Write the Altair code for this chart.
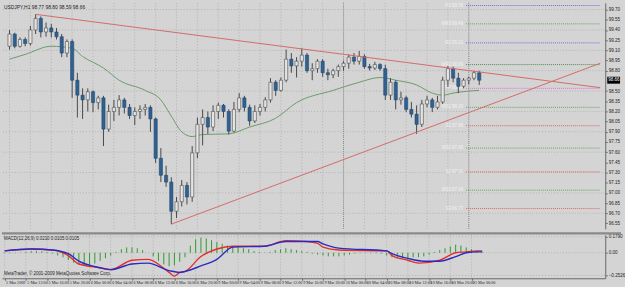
import json
import altair as alt
import pandas as pd

# ---------------- data ----------------
symbol = "USDJPY,H1"

opens = [99.16, 99.34, 99.16, 99.26, 99.20, 99.40, 99.57, 99.37, 99.43, 99.37,
         99.30, 99.06, 99.23, 98.66, 98.44, 98.37, 98.49, 98.33, 98.40, 97.94,
         98.20, 98.26, 98.37, 98.26, 98.14, 98.20, 98.23, 98.26, 98.09, 97.51,
         97.26, 97.16, 96.73, 96.87, 97.11, 96.94, 97.59, 98.01, 98.11, 97.97,
         98.20, 98.29, 98.20, 97.91, 98.23, 98.40, 98.26, 98.06, 98.20, 98.26,
         98.37, 98.63, 98.51, 98.66, 98.97, 98.87, 98.94, 99.03, 98.80, 98.83,
         98.94, 98.77, 98.74, 98.80, 98.86, 98.91, 99.00, 98.94, 99.01, 98.86,
         98.84, 98.89, 98.83, 98.44, 98.63, 98.37, 98.40, 98.23, 98.16, 98.01,
         98.31, 98.37, 98.26, 98.34, 98.66, 98.83, 98.69, 98.57, 98.66, 98.69,
         98.77]
highs = [99.40, 99.36, 99.29, 99.29, 99.46, 99.63, 99.60, 99.51, 99.49, 99.43,
         99.34, 99.26, 99.26, 98.77, 98.54, 98.54, 98.51, 98.43, 98.43, 98.30,
         98.37, 98.44, 98.40, 98.31, 98.26, 98.29, 98.31, 98.29, 98.11, 97.66,
         97.40, 97.23, 96.94, 97.19, 97.16, 97.69, 98.11, 98.23, 98.20, 98.29,
         98.33, 98.31, 98.23, 98.34, 98.47, 98.43, 98.30, 98.29, 98.31, 98.41,
         98.69, 98.66, 98.70, 99.11, 99.06, 99.00, 99.13, 99.06, 98.91, 98.97,
         98.97, 98.83, 98.83, 98.89, 98.94, 99.04, 99.06, 99.09, 99.04, 98.90,
         98.93, 98.91, 98.89, 98.69, 98.66, 98.49, 98.43, 98.34, 98.29, 98.37,
         98.43, 98.40, 98.43, 98.71, 98.87, 98.86, 98.77, 98.69, 98.71, 98.80,
         98.80]
lows = [99.11, 99.13, 99.14, 99.16, 99.17, 99.34, 99.29, 99.30, 99.29, 99.26,
        99.00, 99.00, 98.40, 98.11, 98.09, 98.20, 98.19, 98.23, 97.69, 97.90,
        98.06, 98.14, 98.17, 98.09, 98.00, 98.09, 98.14, 97.90, 97.44, 97.16,
        97.09, 96.54, 96.63, 96.80, 96.83, 96.87, 97.51, 97.70, 97.87, 97.91,
        98.09, 98.11, 97.86, 97.89, 98.19, 98.20, 97.99, 98.03, 98.14, 98.20,
        98.33, 98.43, 98.49, 98.63, 98.77, 98.70, 98.86, 98.77, 98.66, 98.77,
        98.71, 98.66, 98.69, 98.71, 98.80, 98.83, 98.89, 98.89, 98.83, 98.80,
        98.81, 98.80, 98.37, 98.37, 98.23, 98.30, 98.19, 98.11, 97.87, 97.97,
        98.26, 98.19, 98.23, 98.31, 98.56, 98.63, 98.47, 98.54, 98.60, 98.66,
        98.59]
closes = [99.34, 99.16, 99.26, 99.20, 99.40, 99.57, 99.37, 99.43, 99.37, 99.30,
          99.06, 99.23, 98.66, 98.44, 98.37, 98.49, 98.33, 98.40, 97.94, 98.20,
          98.26, 98.37, 98.26, 98.14, 98.20, 98.23, 98.26, 98.09, 97.51, 97.26,
          97.16, 96.73, 96.87, 97.11, 96.94, 97.59, 98.01, 98.11, 97.97, 98.20,
          98.29, 98.20, 97.91, 98.23, 98.40, 98.26, 98.06, 98.20, 98.26, 98.37,
          98.63, 98.51, 98.66, 98.97, 98.87, 98.94, 99.03, 98.80, 98.83, 98.94,
          98.77, 98.74, 98.80, 98.86, 98.91, 99.00, 98.94, 99.01, 98.86, 98.84,
          98.89, 98.83, 98.44, 98.63, 98.37, 98.40, 98.23, 98.16, 98.01, 98.31,
          98.37, 98.26, 98.34, 98.66, 98.83, 98.69, 98.57, 98.66, 98.69, 98.77,
          98.66]

ma_idx = [0, 3, 8, 12, 14, 18, 21, 26, 29, 31, 33, 35, 37, 42, 46, 51, 55, 62,
          67, 71, 74, 78, 81, 83, 85, 88, 90]
ma_val = [98.97, 99.04, 99.16, 99.13, 99.01, 98.84, 98.66, 98.51, 98.37, 98.13,
          97.90, 97.83, 97.86, 97.87, 97.97, 98.10, 98.33, 98.51, 98.63, 98.70,
          98.66, 98.59, 98.47, 98.44, 98.47, 98.50, 98.51]

trend_names = ["resistance", "resistance", "support", "support"]
trend_idx = [5, 113.2, 31, 113.2]
trend_val = [99.63, 98.55, 96.54, 98.91]

level_names = ["R3", "MR3", "R2", "MR2", "PP", "MS1", "S1", "MS2", "S2", "MS3", "S3"]
level_vals = [99.76, 99.49, 99.21, 98.89, 98.54, 98.26, 97.99, 97.66, 97.31, 97.04, 96.77]
level_colors = ["#7468e8", "#62a862", "#7468e8", "#4c8a4c", "#e070e0", "#62a862",
                "#e06464", "#62a862", "#e06464", "#62a862", "#e06464"]
level_start = 87.5
level_end = 113.2

day_sep_idx = [64, 88]

hist = [-0.006, -0.006, -0.004, 0.004, 0.012, 0.020, 0.022, 0.018, 0.008, -0.010,
        -0.030, -0.050, -0.080, -0.110, -0.130, -0.140, -0.140, -0.120, -0.090, -0.060,
        -0.030, 0.010, 0.040, 0.060, 0.060, 0.050, 0.030, 0.000, -0.040, -0.090,
        -0.130, -0.150, -0.140, -0.100, -0.050, 0.080, 0.150, 0.170, 0.160, 0.140,
        0.120, 0.100, 0.080, 0.070, 0.060, 0.050, 0.040, 0.020, 0.010, 0.004,
        0.010, 0.030, 0.040, 0.050, 0.040, 0.030, 0.020, 0.010, -0.010, -0.020,
        -0.030, -0.040, -0.040, -0.040, -0.030, -0.020, -0.010, -0.006, -0.004, -0.006,
        -0.008, -0.010, -0.030, -0.050, -0.060, -0.060, -0.060, -0.050, -0.050, -0.040,
        -0.020, 0.010, 0.030, 0.050, 0.070, 0.090, 0.080, 0.060, 0.040, 0.020,
        0.010]

red_idx = [0, 5, 9, 12, 14, 18, 20, 24, 27, 31, 32, 33, 34, 37, 40, 43, 49, 53, 57,
           59, 60, 63, 72, 73, 76, 78, 82, 85, 87, 89, 90]
red_val = [0.021, 0.042, 0.031, -0.031, -0.125, -0.167, -0.1875, -0.083, -0.073,
           -0.219, -0.26, -0.219, -0.208, -0.042, 0.042, 0.073, 0.073, 0.135, 0.125,
           0.104, 0.0625, 0.031, 0.021, -0.031, -0.083, -0.115, -0.083, 0.0, 0.01,
           0.021, 0.021]
blue_idx = [0, 5, 9, 12, 14, 18, 20, 24, 27, 31, 33, 34, 37, 40, 43, 49, 53, 57, 59,
            60, 63, 72, 73, 76, 79, 82, 85, 87, 89, 90]
blue_val = [0.021, 0.042, 0.031, -0.01, -0.094, -0.167, -0.1875, -0.125, -0.115,
            -0.198, -0.219, -0.208, -0.146, -0.073, 0.063, 0.073, 0.125, 0.125, 0.125,
            0.1, 0.052, 0.021, -0.01, -0.0625, -0.094, -0.094, -0.042, 0.0, 0.01, 0.01]

x_label_idx = [0, 4, 8, 12, 16, 20, 24, 28, 32, 36, 40, 44, 48, 52, 56, 60, 64,
               68, 72, 76, 80, 84, 88]
x_labels = ["5 Mar 2009", "5 Mar 12:00", "5 Mar 16:00", "5 Mar 20:00",
            "6 Mar 00:00", "6 Mar 04:00", "6 Mar 08:00", "6 Mar 12:00",
            "6 Mar 16:00", "6 Mar 20:00", "9 Mar 00:00", "9 Mar 04:00",
            "9 Mar 08:00", "9 Mar 12:00", "9 Mar 16:00", "9 Mar 20:00",
            "10 Mar 00:00", "10 Mar 04:00", "10 Mar 08:00", "10 Mar 12:00",
            "10 Mar 16:00", "10 Mar 20:00", "11 Mar 00:00"]

price_ticks = [96.55, 96.70, 96.85, 97.00, 97.15, 97.30, 97.45, 97.60, 97.75, 97.90,
               98.05, 98.20, 98.35, 98.50, 98.80, 98.95, 99.10, 99.25, 99.40,
               99.55, 99.70]
price_grid = [96.70, 97.00, 97.30, 97.60, 97.90, 98.20, 98.50, 98.80, 99.10, 99.40, 99.70]
macd_ticks = [0.1790, 0.0, -0.2526]
macd_title = "MACD(12,26,9) 0.0210 0.0105 0.0105"
copyright_text = "MetaTrader, \u00a9 2001-2009 MetaQuotes Software Corp."

# ---------------- styling ----------------
FONT = "Liberation Sans"
NARROW = "Liberation Sans Narrow"
BG = "#d4d4d4"
GRID = "#b2b2b2"
AXIS_C = "#686868"
W = 611
H_MAIN = 229
H_MACD = 44

n = len(closes)
bars = pd.DataFrame({"i": list(range(n)), "open": opens, "high": highs,
                     "low": lows, "close": closes})
bars["fill"] = ["#e4e4e4" if c >= o else "#2f6191" for o, c in zip(opens, closes)]
bars["edge"] = ["#4a4a4a" if c >= o else "#22476d" for o, c in zip(opens, closes)]

xs = alt.Scale(domain=[-0.5, 113.2], nice=False, zero=False)
ys = alt.Scale(domain=[96.47, 99.80], nice=False, zero=False)
ms = alt.Scale(domain=[-0.284, 0.20], nice=False, zero=False)

y_axis = alt.Axis(orient="right", values=price_ticks, format=".2f", labelFontSize=4.6,
                  labelPadding=1, tickSize=2, tickColor=AXIS_C, domainColor=AXIS_C,
                  labelColor="#1e1e1e", grid=False, title=None, labelFont=FONT,
                  labelOverlap=False)
m_axis = alt.Axis(orient="right", values=macd_ticks,
                  labelExpr="datum.value == 0 ? '0.00' : format(datum.value, '.4f')",
                  labelFontSize=4.6, labelPadding=1, tickSize=2, tickColor=AXIS_C,
                  domainColor=AXIS_C, labelColor="#1e1e1e", grid=False, title=None,
                  labelFont=FONT, labelOverlap=False)
x_axis = alt.Axis(values=x_label_idx,
                  labelExpr=json.dumps(x_labels) + "[round(datum.value / 4)]",
                  labelAlign="left", labelBaseline="top", labelFontSize=4.2,
                  labelPadding=0, tickSize=2, labelOffset=1,
                  tickColor=AXIS_C, domainColor=AXIS_C, labelColor="#1e1e1e",
                  grid=False, title=None, labelFont=NARROW, labelOverlap=False,
                  labelBound=False, labelFlush=False)

X0 = alt.X("i:Q", scale=xs, axis=None, title=None)
XM = alt.X("i:Q", scale=xs, axis=x_axis, title=None)


def Yp(field):
    return alt.Y(field, type="quantitative", scale=ys, axis=y_axis, title=None)


def Ym(field):
    return alt.Y(field, type="quantitative", scale=ms, axis=m_axis, title=None)


# ---------------- main price panel ----------------
hgrid = alt.Chart(pd.DataFrame({"p": price_grid})).mark_rule(
    color=GRID, strokeDash=[1, 2], strokeWidth=1).encode(y=Yp("p"))
vgrid = alt.Chart(pd.DataFrame({"i": x_label_idx})).mark_rule(
    color=GRID, strokeDash=[1, 2], strokeWidth=1).encode(x=X0)
daysep = alt.Chart(pd.DataFrame({"i": day_sep_idx})).mark_rule(
    color="#8e8e8e", strokeDash=[1, 1], strokeWidth=1).encode(x=X0)

lv = pd.DataFrame({"name": level_names, "p": level_vals, "col": level_colors,
                   "s": [level_start] * len(level_names),
                   "e": [level_end] * len(level_names)})
lv["label"] = [f"{nm} {v:.2f}" for nm, v in zip(level_names, level_vals)]
levels = alt.Chart(lv).mark_rule(strokeDash=[1, 1], strokeWidth=1).encode(
    x=alt.X("s:Q", scale=xs, axis=None, title=None), x2="e:Q", y=Yp("p"),
    color=alt.Color("col:N", scale=None))
level_text = alt.Chart(lv).mark_text(align="right", baseline="middle", dx=-3,
                                     fontSize=4.5, font=FONT, color="#f2f2f2").encode(
    x=alt.X("s:Q", scale=xs, axis=None, title=None), y=Yp("p"), text="label:N")

ma = alt.Chart(pd.DataFrame({"i": ma_idx, "v": ma_val})).mark_line(
    color="#6a9a6a", strokeWidth=1, interpolate="monotone").encode(x=X0, y=Yp("v"))

wicks = alt.Chart(bars).mark_rule(color="#474747", strokeWidth=1).encode(
    x=X0, y=Yp("low"), y2="high:Q")
bodies = alt.Chart(bars).mark_bar(size=3.2, strokeWidth=0.6).encode(
    x=X0, y=Yp("open"), y2="close:Q",
    color=alt.Color("fill:N", scale=None),
    stroke=alt.Stroke("edge:N", scale=None))

tr = pd.DataFrame({"line": trend_names, "i": trend_idx, "v": trend_val})
trends = alt.Chart(tr).mark_line(color="#d46a6a", strokeWidth=1, clip=True).encode(
    x=X0, y=Yp("v"), detail="line:N")

title_str = f"{symbol}  {opens[-1]:.2f} {highs[-1]:.2f} {lows[-1]:.2f} {closes[-1]:.2f}"
title = alt.Chart(pd.DataFrame({"t": [title_str]})).mark_text(
    align="left", baseline="middle", fontSize=5, font=FONT, color="#1e1e1e").encode(
    x=alt.value(2), y=alt.value(4), text="t:N")

last = pd.DataFrame({"p": [closes[-1]], "t": [f"{closes[-1]:.2f}"]})
pbox = alt.Chart(last).mark_tick(orient="horizontal", thickness=7, size=13,
                                 color="#000000", opacity=1).encode(
    y=Yp("p"), x=alt.value(W + 8.5))
ptxt = alt.Chart(last).mark_text(align="left", baseline="middle", fontSize=4.6,
                                 font=FONT, color="#ffffff").encode(
    y=Yp("p"), x=alt.value(W + 3), text="t:N")

main = alt.layer(hgrid, vgrid, daysep, levels, level_text, ma, wicks, bodies,
                 trends, title, pbox, ptxt).properties(width=W, height=H_MAIN)

# ---------------- MACD panel ----------------
hd = pd.DataFrame({"i": list(range(n)), "h": hist})
m_vgrid = alt.Chart(pd.DataFrame({"i": x_label_idx})).mark_rule(
    color=GRID, strokeDash=[1, 2], strokeWidth=1).encode(x=XM)
m_hgrid = alt.Chart(pd.DataFrame({"p": macd_ticks})).mark_rule(
    color=GRID, strokeDash=[1, 2], strokeWidth=1).encode(y=Ym("p"))
histo = alt.Chart(hd).mark_rule(color="#2f9a2f", strokeWidth=1).encode(
    x=XM, y=Ym("h"), y2=alt.datum(0))
red = alt.Chart(pd.DataFrame({"i": red_idx, "v": red_val})).mark_line(
    color="#e2302a", strokeWidth=1.4, interpolate="monotone").encode(x=XM, y=Ym("v"))
blue = alt.Chart(pd.DataFrame({"i": blue_idx, "v": blue_val})).mark_line(
    color="#2a2ac4", strokeWidth=1.4, interpolate="monotone").encode(x=XM, y=Ym("v"))
m_title = alt.Chart(pd.DataFrame({"t": [macd_title]})).mark_text(
    align="left", baseline="middle", fontSize=4.5, font=FONT, color="#1e1e1e").encode(
    x=alt.value(2), y=alt.value(4), text="t:N")
m_copy = alt.Chart(pd.DataFrame({"t": [copyright_text]})).mark_text(
    align="left", baseline="middle", fontSize=4.5, font=FONT, color="#1e1e1e").encode(
    x=alt.value(2), y=alt.value(H_MACD - 4), text="t:N")
sep = alt.Chart(pd.DataFrame({"t": [0]})).mark_rule(
    color="#8a8a8a", strokeWidth=2.2).encode(
    x=alt.value(0), x2=alt.value(W + 16), y=alt.value(-1.5))

macd = alt.layer(m_hgrid, m_vgrid, histo, red, blue, m_title, m_copy, sep).properties(
    width=W, height=H_MACD)

chart = alt.vconcat(main, macd, spacing=2).properties(
    background=BG, padding=0).configure_view(stroke=None)

chart.save("out.html", embed_options={"renderer": "svg", "actions": False})
